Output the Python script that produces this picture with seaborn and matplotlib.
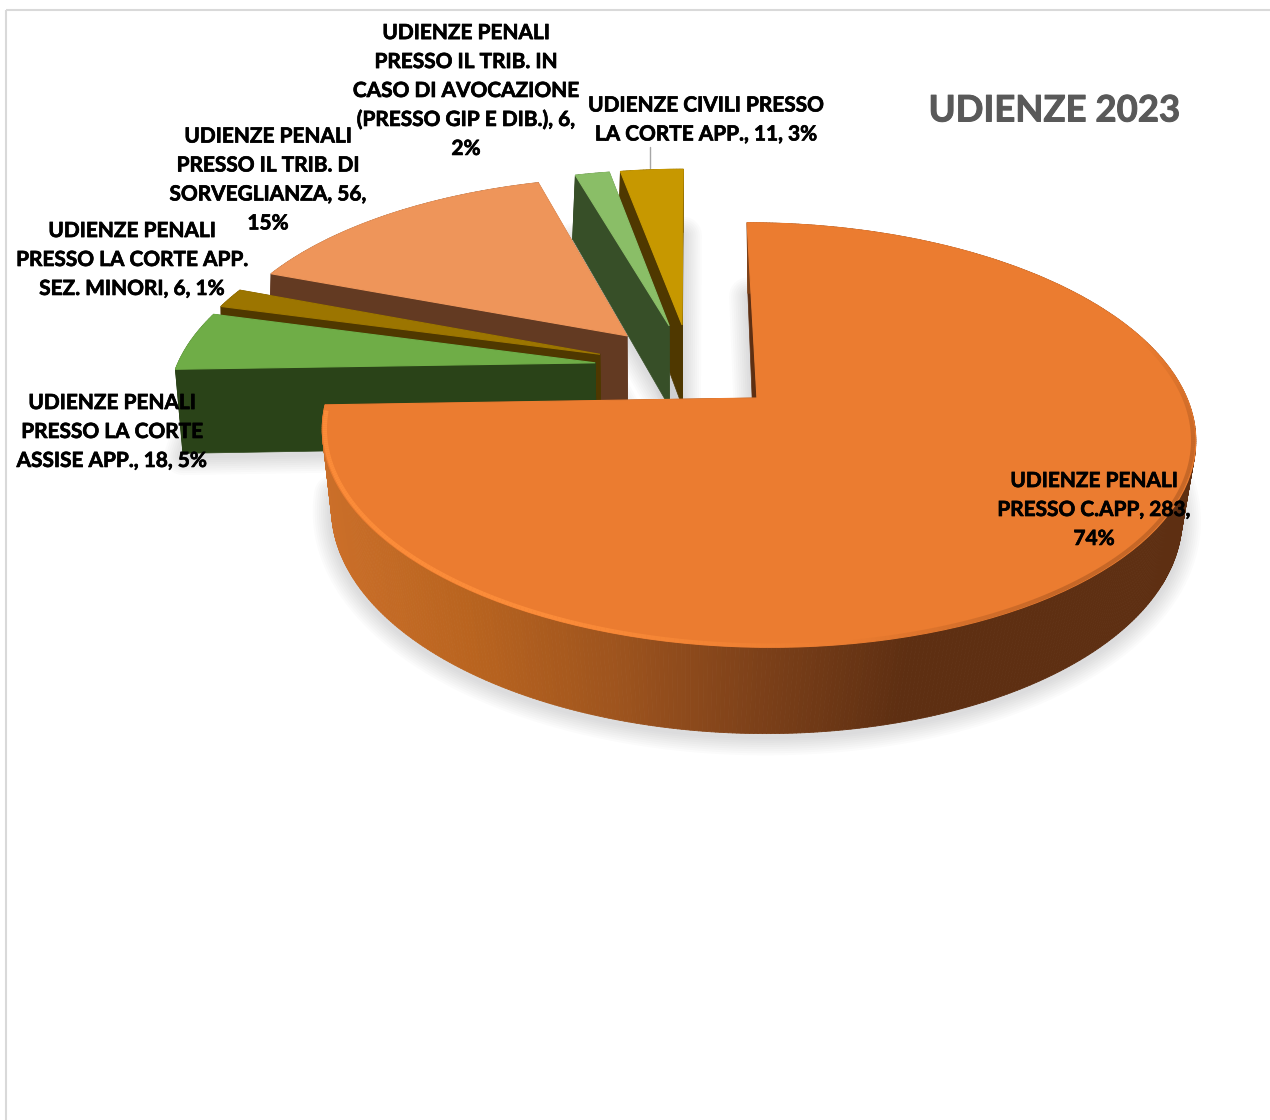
import numpy as np
import matplotlib
matplotlib.use("Agg")
import matplotlib.pyplot as plt
import matplotlib.patheffects as pe
from matplotlib.collections import PolyCollection, LineCollection
from matplotlib.patches import Polygon, Rectangle
from matplotlib.transforms import Transform
import seaborn as sns

# ---------- data ----------
values = [283, 18, 6, 56, 6, 11]
labels = [
    "UDIENZE PENALI\nPRESSO C.APP, 283,\n74%",
    "UDIENZE PENALI\nPRESSO LA CORTE\nASSISE APP., 18, 5%",
    "UDIENZE PENALI\nPRESSO LA CORTE APP.\nSEZ. MINORI, 6, 1%",
    "UDIENZE PENALI\nPRESSO IL TRIB. DI\nSORVEGLIANZA, 56,\n15%",
    "UDIENZE PENALI\nPRESSO IL TRIB. IN\nCASO DI AVOCAZIONE\n(PRESSO GIP E DIB.), 6,\n2%",
    "UDIENZE CIVILI PRESSO\nLA CORTE APP., 11, 3%",
]
title = "UDIENZE 2023"

# ---------- style ----------
top_colors = ["#EB7C30", "#6FAD47", "#9C7500", "#EE955A", "#8ABE67", "#C79800"]
wall_colors = ["#5E2F12", "#2A4318", "#4F3800", "#633A22", "#374F28", "#4F3800"]
main_wall_stops = ["#CB6F29", "#B9641F", "#9E541E", "#7C4019", "#5E2F12", "#5E2F12", "#5E2F12"]
label_xy = [(1094, 510), (112, 432), (132, 260), (268, 180), (466, 91), (706, 120)]
explode = [0.215, 0.23, 0.23, 0.23, 0.23, 0.23]

sns.set_theme(style="white")
plt.rcParams["font.family"] = ["Lato", "DejaVu Sans"]

W, H = 1270, 1120
fig = plt.figure(figsize=(W / 100, H / 100), dpi=100, facecolor="white")
ax = fig.add_axes([0, 0, 1, 1])


class PlaneToPixel(Transform):
    """Perspective mapping of the tilted pie plane on to picture pixels."""
    input_dims = output_dims = 2
    is_separable = False
    has_inverse = False

    def __init__(self, cx, cy, a, b, k):
        super().__init__()
        self.p = (cx, cy, a, b, k)

    def transform_non_affine(self, xy):
        cx, cy, a, b, k = self.p
        xy = np.asarray(xy, float)
        w = 1 + k * xy[:, 1]
        return np.column_stack([cx + a * xy[:, 0] / w, cy - b * xy[:, 1] / w])


top_plane = PlaneToPixel(690.5, 368, 419, 195.5, 0.17)
bot_plane = PlaneToPixel(690.5, 452, 413, 207.7, 0.1324)


wedges, _ = ax.pie(values, explode=explode, startangle=90, counterclock=False,
                   colors=top_colors, radius=1.0, wedgeprops=dict(linewidth=0))
ax.set_aspect("auto")
ax.set_xlim(0, W)
ax.set_ylim(H, 0)
ax.axis("off")


def arc(w, n=None, r_scale=1.0):
    n = n or max(3, int(abs(w.theta2 - w.theta1) * 2))
    t = np.radians(np.linspace(w.theta1, w.theta2, n))
    return np.column_stack([w.center[0] + r_scale * w.r * np.cos(t),
                            w.center[1] + r_scale * w.r * np.sin(t)])


grad = sns.blend_palette(main_wall_stops, 200)
xmin, xmax = 325.0, 1195.0


def wall_quad(p, q):
    return np.vstack([top_plane.transform_non_affine(np.array([p, q])),
                      bot_plane.transform_non_affine(np.array([q, p]))])


# soft shadows on the page
for i, w in enumerate(wedges):
    outline = np.vstack([[w.center], arc(w)])
    pix = bot_plane.transform_non_affine(outline) + np.array([0, 3])
    for lw in range(3, 28, 3):
        ax.add_patch(Polygon(pix, closed=True, fill=False, edgecolor="#808085",
                             alpha=0.032, lw=lw, joinstyle="round", zorder=1))

# slices, from back to front
order = [5, 4, 3, 2, 1, 0]
for rank, i in enumerate(order):
    w = wedges[i]
    z = 2 + rank * 3
    c = np.array(w.center, float)
    pts = arc(w)
    # the two cut faces
    faces = [wall_quad(c, pts[0]), wall_quad(c, pts[-1])]
    ax.add_collection(PolyCollection(faces, facecolors=wall_colors[i],
                                     edgecolors=wall_colors[i], linewidths=0.5, zorder=z))
    # the rounded outer wall
    quads = [wall_quad(pts[j], pts[j + 1]) for j in range(len(pts) - 1)]
    if i == 0:
        cols = []
        for q in quads:
            f = np.clip((q[:, 0].mean() - xmin) / (xmax - xmin), 0, 0.999)
            cols.append(grad[int(f * 200)])
    else:
        cols = [wall_colors[i]] * len(quads)
    ax.add_collection(PolyCollection(quads, facecolors=cols, edgecolors=cols,
                                     linewidths=0.6, zorder=z + 1))
    w.set_transform(top_plane + ax.transData)
    w.set_edgecolor(top_colors[i])
    w.set_linewidth(0.8)
    w.set_zorder(z + 2)
    w.set_clip_on(False)

# light rim along the front edge of the big slice, dark soft rim to the right
w0 = wedges[0]
rim = top_plane.transform_non_affine(arc(w0, 500, 0.994))
segs = np.stack([rim[:-1], rim[1:]], axis=1)
mx = segs[:, :, 0].mean(axis=1)
my = segs[:, :, 1].mean(axis=1)
rgba = np.zeros((len(segs), 4))
for j in range(len(segs)):
    if mx[j] < 850 and my[j] > 410:
        rgba[j] = (1.0, 0.56, 0.23, np.clip((850 - mx[j]) / 300, 0, 1) * 0.85)
    elif my[j] > 300:
        rgba[j] = (0.45, 0.22, 0.08,
                   np.clip((mx[j] - 850) / 200, 0, 1) * np.clip((my[j] - 340) / 100, 0, 1) * 0.3)
ax.add_collection(LineCollection(segs, colors=rgba, linewidths=3, zorder=30))

# chart area border
ax.add_patch(Rectangle((6, 10), W + 20, H + 20, fill=False, edgecolor="#D9D9D9", lw=1.5, zorder=0))

# leader line of the last label
ax.plot([650, 650], [147, 168], color="#A6A6A6", lw=1, zorder=1)

# texts
for s, (x, y) in zip(labels, label_xy):
    ax.text(x, y, s, ha="center", va="center", fontsize=15, fontweight="bold",
            color="black", linespacing=1.56, zorder=40,
            path_effects=[pe.withStroke(linewidth=0.5, foreground="black")])
ax.text(1054, 111, title, ha="center", va="center", fontsize=26.3, fontweight="bold",
        color="#595959", zorder=40,
        path_effects=[pe.withStroke(linewidth=0.7, foreground="#595959")])

fig.savefig("out.png", dpi=100, facecolor="white")
